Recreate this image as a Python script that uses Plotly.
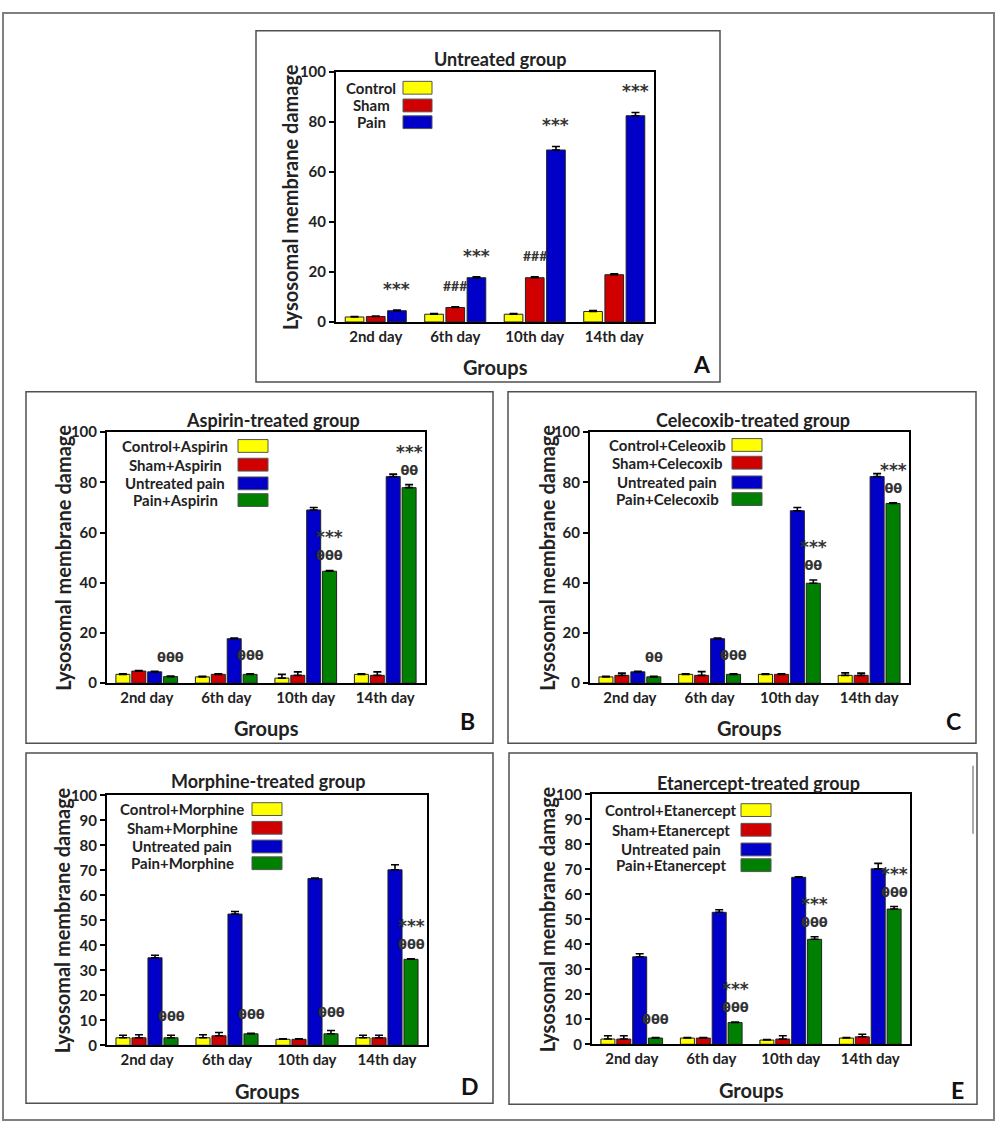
import plotly.graph_objects as go

W, H = 1000, 1133
FONT = "Lato"
MARK_FONT = "DejaVu Sans"

days = ["2nd day", "6th day", "10th day", "14th day"]

# ---------------- Panel A : Untreated group ----------------
a_names = ["Control", "Sham", "Pain"]
a_control = [2.0, 3.1, 3.1, 4.2]
a_control_err = [0.2, 0.3, 0.3, 0.4]
a_sham = [2.2, 5.8, 17.7, 18.9]
a_sham_err = [0.2, 0.3, 0.4, 0.4]
a_pain = [4.5, 17.7, 68.8, 82.5]
a_pain_err = [0.3, 0.4, 1.4, 1.3]
a_pain_marks = ["***", "***", "***", "***"]
a_sham_marks = ["", "###", "###", ""]

# ---------------- Panel B : Aspirin ----------------
b_names = ["Control+Aspirin", "Sham+Aspirin", "Untreated pain", "Pain+Aspirin"]
b_control = [3.5, 2.5, 2.0, 3.5]
b_control_err = [0.2, 0.2, 1.5, 0.2]
b_sham = [4.8, 3.5, 3.1, 3.1]
b_sham_err = [0.2, 0.2, 1.4, 1.4]
b_pain = [4.5, 17.7, 69.0, 82.3]
b_pain_err = [0.2, 0.3, 1.0, 1.0]
b_treated = [2.6, 3.5, 44.6, 77.9]
b_treated_err = [0.2, 0.2, 0.3, 1.2]
b_marks = ["θθθ", "θθθ", "***<br>θθθ", "***<br>θθ"]

# ---------------- Panel C : Celecoxib ----------------
c_names = ["Control+Celeoxib", "Sham+Celecoxib", "Untreated pain", "Pain+Celecoxib"]
c_control = [2.5, 3.5, 3.5, 3.1]
c_control_err = [0.2, 0.2, 0.2, 1.0]
c_sham = [3.1, 3.1, 3.5, 3.1]
c_sham_err = [0.9, 1.5, 0.2, 0.9]
c_pain = [4.5, 17.7, 68.7, 82.3]
c_pain_err = [0.2, 0.3, 1.3, 1.2]
c_treated = [2.5, 3.5, 39.8, 71.6]
c_treated_err = [0.2, 0.2, 1.3, 0.3]
c_marks = ["θθ", "θθθ", "***<br>θθ", "***<br>θθ"]

# ---------------- Panel D : Morphine ----------------
d_names = ["Control+Morphine", "Sham+Morphine", "Untreated pain", "Pain+Morphine"]
d_control = [3.0, 3.0, 2.4, 3.0]
d_control_err = [1.0, 1.2, 0.2, 1.0]
d_sham = [3.0, 3.8, 2.4, 3.0]
d_sham_err = [1.2, 1.3, 0.2, 1.0]
d_pain = [35.0, 52.5, 66.7, 70.2]
d_pain_err = [1.0, 1.0, 0.2, 2.0]
d_treated = [3.0, 4.6, 4.6, 34.4]
d_treated_err = [1.0, 0.2, 1.3, 0.2]
d_marks = ["θθθ", "θθθ", "θθθ", "***<br>θθθ"]

# ---------------- Panel E : Etanercept ----------------
e_names = ["Control+Etanercept", "Sham+Etanercept", "Untreated pain", "Pain+Etanercept"]
e_control = [2.1, 2.5, 1.7, 2.5]
e_control_err = [1.3, 0.2, 0.2, 0.2]
e_sham = [2.1, 2.5, 2.1, 3.0]
e_sham_err = [1.3, 0.2, 1.3, 1.0]
e_pain = [35.0, 52.8, 66.8, 70.2]
e_pain_err = [1.2, 1.0, 0.2, 2.2]
e_treated = [2.5, 8.7, 42.0, 54.1]
e_treated_err = [0.2, 0.2, 1.0, 1.0]
e_marks = ["θθθ", "***<br>θθθ", "***<br>θθθ", "***<br>θθθ"]

COLORS = ["#FFFF00", "#D00000", "#0000C8", "#008000"]
BARGAP = 0.2


def px(x):
    return x / W


def py(y):
    return 1 - y / H


def style_mark(m):
    # enlarge the asterisks relative to the theta symbols
    return m.replace("***", "<span style='font-size:17px'>***</span>")


panels = [
    dict(letter="A", title="Untreated group", names=a_names,
         series=[a_control, a_sham, a_pain], errs=[a_control_err, a_sham_err, a_pain_err],
         marks=[(2, a_pain_marks), (1, a_sham_marks)],
         plot=(336, 63, 654, 317), box=(256, 21, 720, 378), dtick=20,
         title_xy=(500, 50), letter_xy=(702, 360), ytitle_x=290,
         leg_cx=371, leg_rows=[79, 97, 114], swatch=(403, 432)),
    dict(letter="B", title="Aspirin-treated group", names=b_names,
         series=[b_control, b_sham, b_pain, b_treated],
         errs=[b_control_err, b_sham_err, b_pain_err, b_treated_err],
         marks=[(3, b_marks)],
         plot=(107, 429, 425, 684), box=(26, 388, 493, 745), dtick=20,
         title_xy=(273, 417), letter_xy=(467, 722), ytitle_x=63,
         leg_cx=175, leg_rows=[443, 462, 481, 498], swatch=(238, 268)),
    dict(letter="C", title="Celecoxib-treated group", names=c_names,
         series=[c_control, c_sham, c_pain, c_treated],
         errs=[c_control_err, c_sham_err, c_pain_err, c_treated_err],
         marks=[(3, c_marks)],
         plot=(590, 429, 909, 684), box=(508, 388, 976, 745), dtick=20,
         title_xy=(753, 417), letter_xy=(953, 722), ytitle_x=547,
         leg_cx=667, leg_rows=[442, 460, 480, 497], swatch=(732, 762)),
    dict(letter="D", title="Morphine-treated group", names=d_names,
         series=[d_control, d_sham, d_pain, d_treated],
         errs=[d_control_err, d_sham_err, d_pain_err, d_treated_err],
         marks=[(3, d_marks)],
         plot=(107, 798, 427, 1052), box=(26, 755, 493, 1111), dtick=10,
         title_xy=(268, 783), letter_xy=(470, 1093), ytitle_x=62,
         leg_cx=182, leg_rows=[812, 831, 850, 867], swatch=(252, 282)),
    dict(letter="E", title="Etanercept-treated group", names=e_names,
         series=[e_control, e_sham, e_pain, e_treated],
         errs=[e_control_err, e_sham_err, e_pain_err, e_treated_err],
         marks=[(3, e_marks)],
         plot=(592, 797, 910, 1051), box=(509, 755, 977, 1112), dtick=10,
         title_xy=(758, 785), letter_xy=(957, 1097), ytitle_x=547,
         leg_cx=671, leg_rows=[813, 833, 853, 869], swatch=(741, 771)),
]

fig = go.Figure()
annotations = []
shapes = []
layout = {}

# outer frame
shapes.append(dict(type="rect", xref="paper", yref="paper",
                   x0=px(3), x1=px(994), y0=py(1128), y1=py(3),
                   line=dict(color="#808080", width=2)))

for i, p in enumerate(panels, start=1):
    xa = "x" if i == 1 else f"x{i}"
    ya = "y" if i == 1 else f"y{i}"
    n = len(p["series"])
    for k, (vals, err) in enumerate(zip(p["series"], p["errs"])):
        fig.add_trace(go.Bar(
            x=days, y=vals, name=p["names"][k], xaxis=xa, yaxis=ya,
            marker=dict(color=COLORS[k], line=dict(color="#222222", width=1)),
            error_y=dict(type="data", array=err, arrayminus=[0] * len(err),
                         symmetric=False, color="black", thickness=1.6, width=4),
            showlegend=False,
        ))
    x0, y0, x1, y1 = p["plot"]
    axis_common = dict(showline=True, linecolor="black", linewidth=2, mirror=True,
                       showgrid=False, zeroline=False,
                       tickfont=dict(family=FONT, size=15, color="#222", weight="bold"))
    layout["xaxis" if i == 1 else f"xaxis{i}"] = dict(
        domain=[px(x0), px(x1)], anchor=ya, type="category", ticks="",
        range=[-0.5, 3.5], **axis_common)
    layout["yaxis" if i == 1 else f"yaxis{i}"] = dict(
        domain=[py(y1), py(y0)], anchor=xa, range=[0, 100], dtick=p["dtick"],
        ticks="outside", ticklen=5, tickwidth=2, tickcolor="black", **axis_common)

    # significance marks above bars
    slot = (1 - BARGAP) / n
    for k, marks in p["marks"]:
        vals = p["series"][k]
        err = p["errs"][k]
        for j, m in enumerate(marks):
            if not m:
                continue
            is_hash = "#" in m
            single = "<br>" not in m
            annotations.append(dict(
                xref=xa, yref=ya, x=j - (1 - BARGAP) / 2 + slot * (k + 0.5),
                y=vals[j] + err[j], yanchor="bottom", xanchor="center",
                yshift=(11 if is_hash else (9 if single else 5)),
                text=m if is_hash else style_mark(m), showarrow=False,
                font=dict(family=FONT if is_hash else MARK_FONT,
                          size=14 if is_hash else 13, color="#333", weight="bold")))

    # title, axis titles, panel letter
    tx, ty = p["title_xy"]
    annotations.append(dict(xref="paper", yref="paper", x=px(tx), y=py(ty),
                            text=p["title"], showarrow=False, xanchor="center", yanchor="middle",
                            font=dict(family=FONT, size=18, color="#222", weight="bold")))
    annotations.append(dict(xref="paper", yref="paper", x=px(p["ytitle_x"]), y=py((y0 + y1) / 2),
                            text="Lysosomal membrane damage", textangle=-90, showarrow=False,
                            xanchor="center", yanchor="middle",
                            font=dict(family=FONT, size=20, color="#222", weight="bold")))
    annotations.append(dict(xref="paper", yref="paper", x=px((x0 + x1) / 2), y=py(y1 + 46),
                            text="Groups", showarrow=False, xanchor="center", yanchor="middle",
                            font=dict(family=FONT, size=20, color="#222", weight="bold")))
    lx, ly = p["letter_xy"]
    annotations.append(dict(xref="paper", yref="paper", x=px(lx), y=py(ly),
                            text=p["letter"], showarrow=False, xanchor="center", yanchor="middle",
                            font=dict(family=FONT, size=23, color="#111", weight="bold")))

    # custom legend (label left, swatch right)
    sx0, sx1 = p["swatch"]
    for k, name in enumerate(p["names"]):
        ry = p["leg_rows"][k]
        annotations.append(dict(xref="paper", yref="paper", x=px(p["leg_cx"]), y=py(ry),
                                text=name, showarrow=False, xanchor="center", yanchor="middle",
                                font=dict(family=FONT, size=15, color="#222", weight="bold")))
        shapes.append(dict(type="rect", xref="paper", yref="paper",
                           x0=px(sx0), x1=px(sx1), y0=py(ry + 6.5), y1=py(ry - 6.5),
                           fillcolor=COLORS[k], line=dict(color="#555", width=1)))

    # panel box
    bx0, by0, bx1, by1 = p["box"]
    shapes.append(dict(type="rect", xref="paper", yref="paper",
                       x0=px(bx0), x1=px(bx1), y0=py(by1), y1=py(by0),
                       line=dict(color="#505050", width=1.5)))

# faint vertical line artefact at right of panel E
shapes.append(dict(type="line", xref="paper", yref="paper",
                   x0=px(973), x1=px(973), y0=py(837), y1=py(768),
                   line=dict(color="#aaaaaa", width=2)))

fig.update_layout(
    width=W, height=H, autosize=False,
    margin=dict(l=0, r=0, t=0, b=0),
    paper_bgcolor="white", plot_bgcolor="white",
    barmode="group", bargap=BARGAP, bargroupgap=0.12,
    font=dict(family=FONT, color="#222"),
    annotations=annotations, shapes=shapes,
    **layout,
)

fig.write_html("out.html", include_plotlyjs=True, config={"displayModeBar": False},
               post_script="document.body.style.margin='0';document.body.style.overflow='hidden';")
